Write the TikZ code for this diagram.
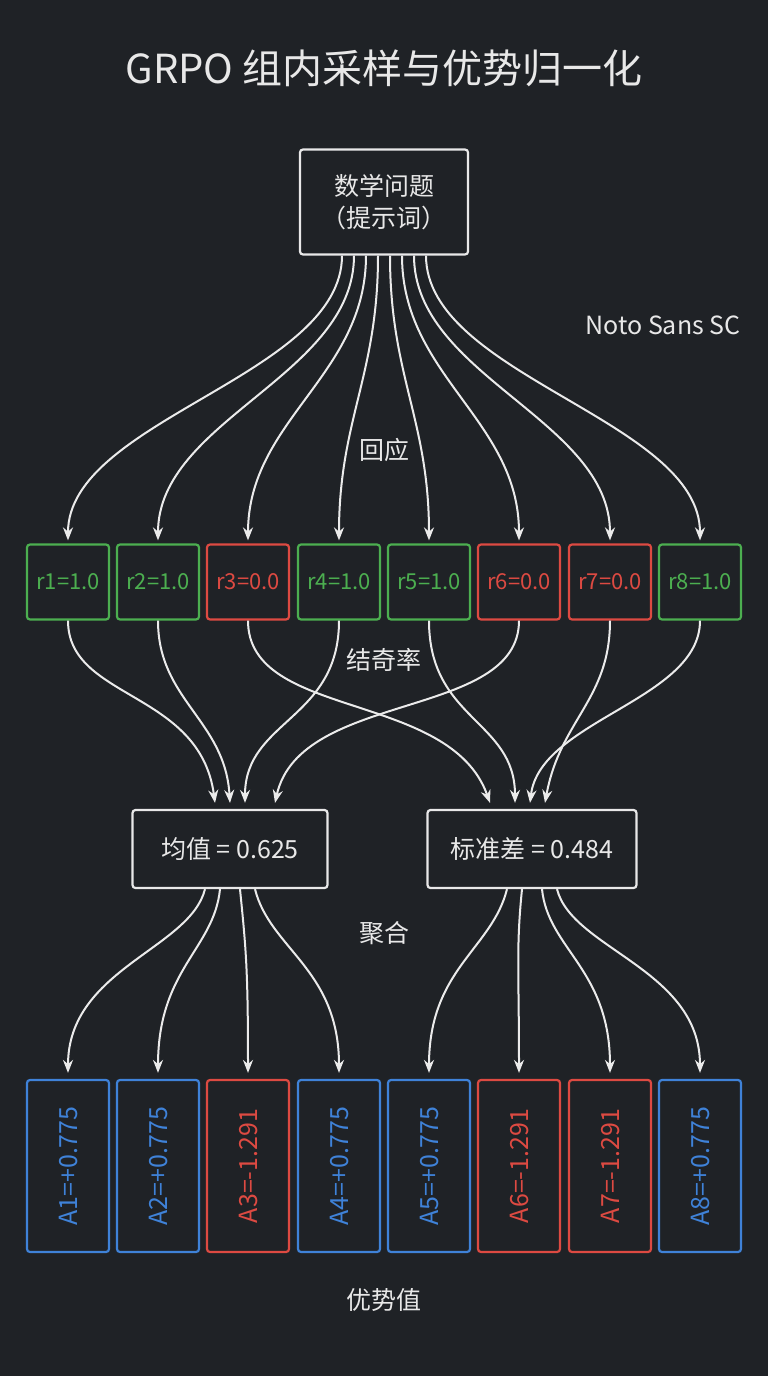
\documentclass[tikz,border=0pt]{standalone}
\usepackage{fontspec}
\usetikzlibrary{arrows.meta}
\setmainfont{Noto Sans CJK SC}
\definecolor{bg}{HTML}{1F2226}
\definecolor{fg}{HTML}{E8E8E8}
\definecolor{gr}{HTML}{4CAF50}
\definecolor{rd}{HTML}{DD4A42}
\definecolor{bl}{HTML}{3F82D8}
\begin{document}
\begin{tikzpicture}[x=1pt,y=-1pt,
 box/.style={draw=#1,line width=2.2pt,rounded corners=3pt,minimum width=82pt,minimum height=75pt,text=#1,font=\fontsize{22}{24}\selectfont,inner sep=0pt},
 abox/.style={draw=#1,line width=2.2pt,rounded corners=3pt,minimum width=82pt,minimum height=172pt,inner sep=0pt},
 wbox/.style={draw=fg,line width=2.2pt,rounded corners=3pt,text=fg,font=\fontsize{25}{32}\selectfont,align=center},
 lab/.style={text=fg,font=\fontsize{25}{28}\selectfont},
 arr/.style={draw=fg!85,line width=2pt,-{Stealth[length=13pt,width=10pt]}}]
\fill[bg] (0,0) rectangle (768,1376);
\node[text=fg,font=\fontsize{40}{46}\selectfont] (title) at (384,68) {GRPO 组内采样与优势归一化};
\node[wbox,minimum width=168pt,minimum height=105pt] (p) at (384,202) {数学问题\\（提示词）};
\node[lab] (ns) at (663,325) {Noto Sans SC};
\node[lab] (hy) at (384,450) {回应};
\foreach \i/\x/\c/\v in {1/68/gr/1.0,2/158/gr/1.0,3/248/rd/0.0,4/339/gr/1.0,5/429/gr/1.0,6/519/rd/0.0,7/610/rd/0.0,8/700/gr/1.0}{
 \node[box=\c] (r\i) at (\x,582) {r\i=\v};
 \draw[arr] (p.south) ++({(\i-4.5)*12},0) coordinate (s\i) .. controls ++(0,120) and (\x,420) .. ([yshift=3pt]r\i.north);
}
\node[wbox,minimum width=195pt,minimum height=78pt] (mu) at (230,849) {均值 = 0.625};
\node[wbox,minimum width=209pt,minimum height=78pt] (sd) at (532,849) {标准差 = 0.484};
\draw[arr] (r1.south) .. controls (68,700) and (200,690) .. ([xshift=-15pt,yshift=6pt]mu.north);
\draw[arr] (r2.south) .. controls (158,700) and (225,720) .. ([xshift=0pt,yshift=6pt]mu.north);
\draw[arr] (r4.south) .. controls (339,720) and (245,720) .. ([xshift=15pt,yshift=6pt]mu.north);
\draw[arr] (r6.south) .. controls (519,720) and (300,690) .. ([xshift=45pt,yshift=6pt]mu.north);
\draw[arr] (r3.south) .. controls (248,720) and (450,690) .. ([xshift=-42pt,yshift=6pt]sd.north);
\draw[arr] (r5.south) .. controls (429,720) and (515,720) .. ([xshift=-17pt,yshift=6pt]sd.north);
\draw[arr] (r8.south) .. controls (700,700) and (540,720) .. ([xshift=-2pt,yshift=6pt]sd.north);
\draw[arr] (r7.south) .. controls (610,700) and (560,720) .. ([xshift=13pt,yshift=6pt]sd.north);
\node[lab,fill=bg,inner sep=3pt] (jq) at (384,660) {结奇率};
\node[lab] (jh) at (384,933) {聚合};
\foreach \i/\x/\c/\v in {1/68/bl/+0.775,2/158/bl/+0.775,3/248/rd/-1.291,4/339/bl/+0.775,5/429/bl/+0.775,6/519/rd/-1.291,7/610/rd/-1.291,8/700/bl/+0.775}{
 \node[abox=\c] (a\i) at (\x,1166) {};
 \node[rotate=90,text=\c,font=\fontsize{25}{28}\selectfont] (t\i) at (a\i.center) {A\i=\v};
}
\foreach \i/\dx in {1/-25,2/-10,3/10,4/25}{
 \draw[arr] ([xshift=\dx pt]mu.south) .. controls ++(\dx*0.6,60) and ([yshift=110pt]a\i.north) .. ([yshift=6pt]a\i.north);}
\foreach \i/\dx in {5/-25,6/-10,7/10,8/25}{
 \draw[arr] ([xshift=\dx pt]sd.south) .. controls ++(\dx*0.6,60) and ([yshift=110pt]a\i.north) .. ([yshift=6pt]a\i.north);}
\node[lab] (ys) at (384,1300) {优势值};
\end{tikzpicture}
\end{document}
